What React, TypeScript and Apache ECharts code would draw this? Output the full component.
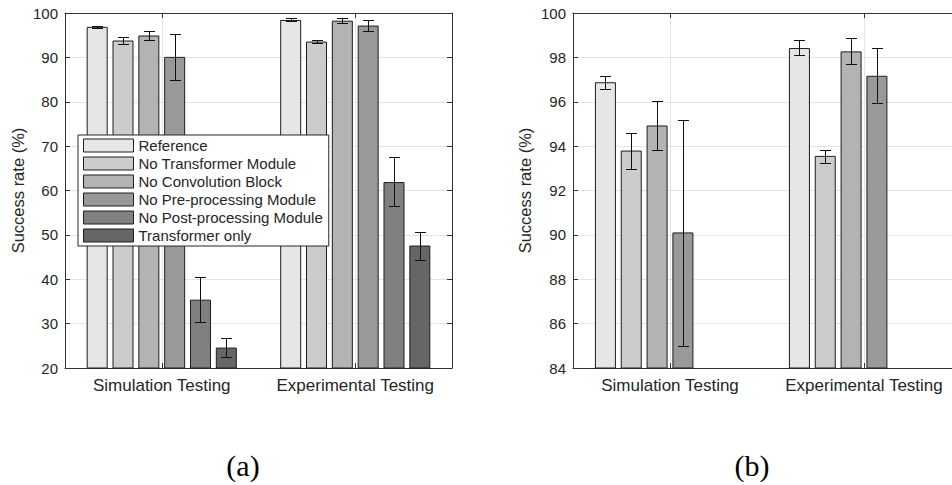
import React, { useEffect, useRef } from "react";
import * as echarts from "echarts";

const categories = ["Simulation Testing", "Experimental Testing"];
const seriesNames = [
  "Reference",
  "No Transformer Module",
  "No Convolution Block",
  "No Pre-processing Module",
  "No Post-processing Module",
  "Transformer only",
];
const seriesColors = ["#e6e6e6", "#cccccc", "#b3b3b3", "#999999", "#808080", "#666666"];

// mean success rates per category [Simulation, Experimental]
const referenceValues = [96.88, 98.42];
const noTransformerValues = [93.8, 93.56];
const noConvolutionValues = [94.93, 98.27];
const noPreValues = [90.11, 97.17];
const noPostValues = [35.4, 61.9];
const transformerOnlyValues = [24.6, 47.6];

// error bar lower / upper bounds
const referenceLow = [96.59, 98.09];
const referenceHigh = [97.17, 98.77];
const noTransformerLow = [92.98, 93.25];
const noTransformerHigh = [94.59, 93.83];
const noConvolutionLow = [93.84, 97.7];
const noConvolutionHigh = [96.02, 98.86];
const noPreLow = [85.0, 95.93];
const noPreHigh = [95.19, 98.41];
const noPostLow = [30.3, 56.5];
const noPostHigh = [40.5, 67.5];
const transformerOnlyLow = [22.4, 44.4];
const transformerOnlyHigh = [26.7, 50.6];

// y axis ranges for panel (a) and (b)
const panelAMin = 20;
const panelAMax = 100;
const panelAStep = 10;
const panelBMin = 84;
const panelBMax = 100;
const panelBStep = 2;

const captions = ["(a)", "(b)"];
const yAxisName = "Success rate (%)";

const allValues = [
  referenceValues,
  noTransformerValues,
  noConvolutionValues,
  noPreValues,
  noPostValues,
  transformerOnlyValues,
];
const allLow = [referenceLow, noTransformerLow, noConvolutionLow, noPreLow, noPostLow, transformerOnlyLow];
const allHigh = [referenceHigh, noTransformerHigh, noConvolutionHigh, noPreHigh, noPostHigh, transformerOnlyHigh];

const FONT = '"Liberation Sans", Arial, Helvetica, sans-serif';
const TEXT = "#262626";
const AXIS = "#333333";
const GRIDC = "#e4e4e4";
const BAR_W = 21;
const BAR_GAP = 0.23;

export default function App() {
  const ref = useRef<HTMLDivElement>(null);

  useEffect(() => {
    if (!ref.current) return;
    const chart = echarts.init(ref.current, undefined, { renderer: "svg" });

    const grids = [
      { left: 65, top: 13, width: 387, height: 355 },
      { left: 573, top: 13, width: 388, height: 355 },
    ];
    const ranges = [
      [panelAMin, panelAMax, panelAStep],
      [panelBMin, panelBMax, panelBStep],
    ];
    const nameGaps = [39, 40];

    const xAxis: any[] = [];
    const yAxis: any[] = [];
    grids.forEach((_, g) => {
      xAxis.push({
        gridIndex: g,
        type: "category",
        data: categories,
        position: "bottom",
        boundaryGap: true,
        axisLine: { show: true, lineStyle: { color: AXIS, width: 1 } },
        axisTick: { show: true, inside: true, alignWithLabel: true, length: 5, lineStyle: { color: AXIS } },
        axisLabel: {
          show: true,
          interval: 0,
          hideOverlap: false,
          fontSize: 17,
          color: TEXT,
          margin: 9,
          fontFamily: FONT,
        },
        splitLine: { show: true, alignWithLabel: true, lineStyle: { color: GRIDC, width: 1 } },
      });
      xAxis.push({
        gridIndex: g,
        type: "category",
        data: categories,
        position: "top",
        boundaryGap: true,
        axisLine: { show: true, lineStyle: { color: AXIS, width: 1 } },
        axisTick: { show: true, inside: true, alignWithLabel: true, length: 5, lineStyle: { color: AXIS } },
        axisLabel: { show: false },
        splitLine: { show: false },
      });
      const [mn, mx, st] = ranges[g];
      yAxis.push({
        gridIndex: g,
        type: "value",
        min: mn,
        max: mx,
        interval: st,
        position: "left",
        name: yAxisName,
        nameLocation: "middle",
        nameGap: nameGaps[g],
        nameTextStyle: { fontSize: 16.5, color: TEXT, fontFamily: FONT },
        axisLine: { show: true, lineStyle: { color: AXIS, width: 1 } },
        axisTick: { show: true, inside: true, length: 5, lineStyle: { color: AXIS } },
        axisLabel: { show: true, fontSize: 15, color: TEXT, margin: 7, fontFamily: FONT },
        splitLine: { show: true, lineStyle: { color: GRIDC, width: 1 } },
      });
      yAxis.push({
        gridIndex: g,
        type: "value",
        min: mn,
        max: mx,
        interval: st,
        position: "right",
        axisLine: { show: true, lineStyle: { color: AXIS, width: 1 } },
        axisTick: { show: true, inside: true, length: 5, lineStyle: { color: AXIS } },
        axisLabel: { show: false },
        splitLine: { show: false },
      });
    });

    const series: any[] = [];
    grids.forEach((_, g) => {
      seriesNames.forEach((name, i) => {
        series.push({
          type: "bar",
          name,
          xAxisIndex: g * 2,
          yAxisIndex: g * 2,
          data: allValues[i],
          barWidth: BAR_W,
          barGap: `${BAR_GAP * 100}%`,
          clip: true,
          itemStyle: { color: seriesColors[i], borderColor: "#1e1e1e", borderWidth: 1 },
          emphasis: { disabled: true },
          z: 2,
        });
      });
      const yMin = ranges[g][0];
      const errData: any[] = [];
      seriesNames.forEach((_, i) => {
        categories.forEach((_, c) => {
          if (allLow[i][c] >= yMin) errData.push([c, allLow[i][c], allHigh[i][c], i]);
        });
      });
      series.push({
        type: "custom",
        xAxisIndex: g * 2,
        yAxisIndex: g * 2,
        data: errData,
        clip: true,
        silent: true,
        z: 5,
        encode: { x: 0, y: [1, 2] },
        renderItem: (params: any, api: any) => {
          const c = api.value(0);
          const lo = api.value(1);
          const hi = api.value(2);
          const si = api.value(3);
          const pitch = BAR_W * (1 + BAR_GAP);
          const off = (si - (seriesNames.length - 1) / 2) * pitch;
          const pLo = api.coord([c, lo]);
          const pHi = api.coord([c, hi]);
          const x = Math.round(pLo[0] + off) + 0.5;
          const yl = Math.round(pLo[1]) + 0.5;
          const yh = Math.round(pHi[1]) + 0.5;
          const cap = 5.5;
          const style = { stroke: "#111111", lineWidth: 1 };
          return {
            type: "group",
            children: [
              { type: "line", shape: { x1: x, y1: yl, x2: x, y2: yh }, style },
              { type: "line", shape: { x1: x - cap, y1: yl, x2: x + cap, y2: yl }, style },
              { type: "line", shape: { x1: x - cap, y1: yh, x2: x + cap, y2: yh }, style },
            ],
          };
        },
      });
    });

    chart.setOption({
      animation: false,
      textStyle: { fontFamily: FONT },
      grid: grids.map((g) => ({ ...g, containLabel: false, outerBoundsMode: "none" })),
      xAxis,
      yAxis,
      legend: {
        data: seriesNames.map((n, i) => ({
          name: n,
          itemStyle: { color: seriesColors[i], borderColor: "#1e1e1e", borderWidth: 1 },
        })),
        orient: "vertical",
        left: 78,
        top: 135,
        itemWidth: 50,
        itemHeight: 13,
        itemGap: 3,
        icon: "rect",
        backgroundColor: "#ffffff",
        borderColor: "#262626",
        borderWidth: 1,
        borderRadius: 0,
        padding: [3, 6, 3, 5],
        selectedMode: false,
        textStyle: { fontSize: 15, color: TEXT, fontFamily: FONT },
        z: 10,
      },
      series,
      graphic: [
        {
          type: "text",
          x: 243,
          y: 465,
          style: {
            text: captions[0],
            font: '30px "Liberation Serif", "Times New Roman", serif',
            fill: "#000000",
            textAlign: "center",
            textVerticalAlign: "middle",
          },
        },
        {
          type: "text",
          x: 752,
          y: 465,
          style: {
            text: captions[1],
            font: '30px "Liberation Serif", "Times New Roman", serif',
            fill: "#000000",
            textAlign: "center",
            textVerticalAlign: "middle",
          },
        },
      ],
    });

    return () => chart.dispose();
  }, []);

  return (
    <div
      ref={ref}
      style={{ position: "absolute", left: 0, top: 0, width: 952, height: 485, background: "#ffffff" }}
    />
  );
}
